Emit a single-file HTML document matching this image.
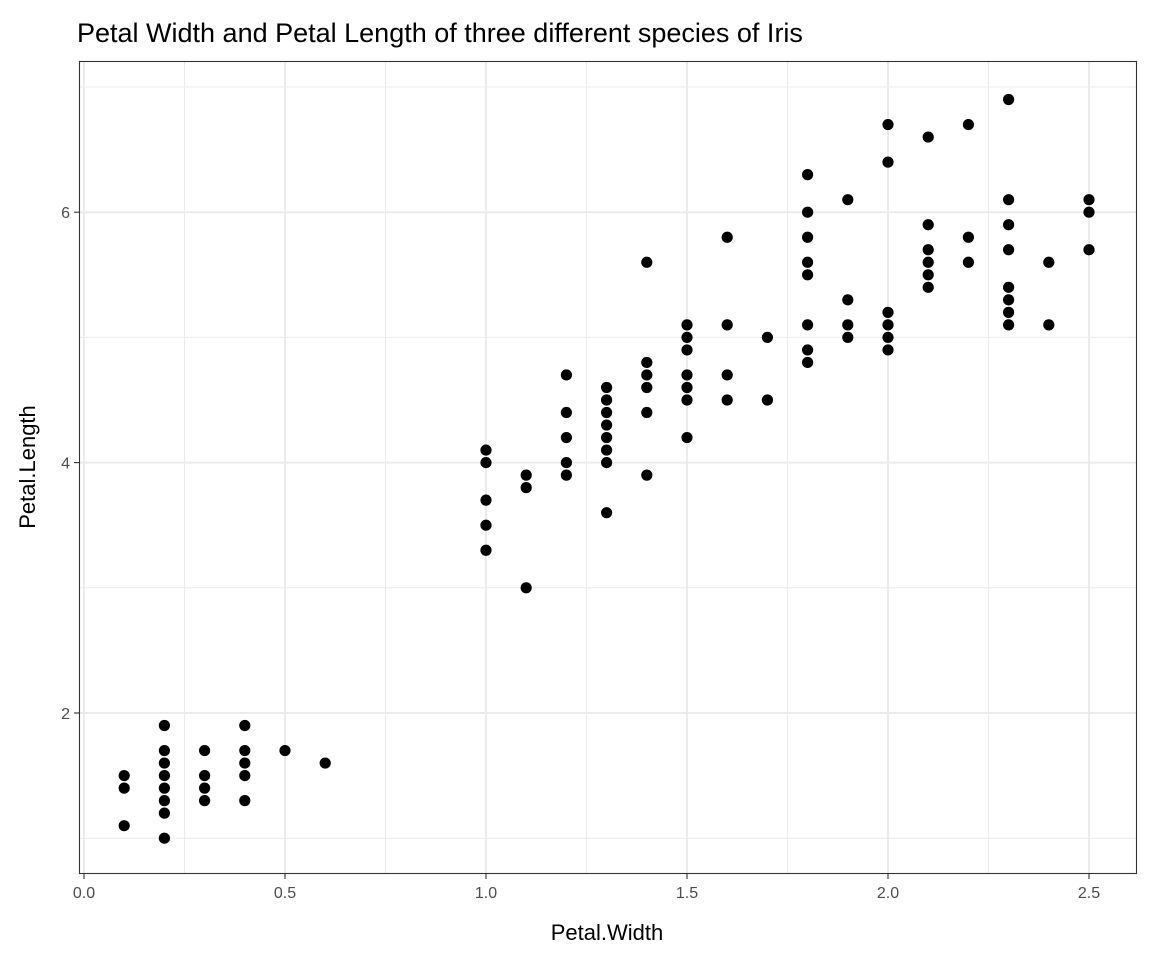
<!DOCTYPE html>
<html><head><meta charset="utf-8"><style>
html,body{margin:0;padding:0;background:#fff;}
svg{display:block;font-family:"Liberation Sans",Arial,sans-serif;}
</style></head><body>
<svg id="s" width="1152" height="960" xmlns="http://www.w3.org/2000/svg">
<rect width="1152" height="960" fill="#fff"/>
<g id="grid"></g>
<g id="pts"></g>
<rect x="79.5" y="61.5" width="1057" height="812" fill="none" stroke="#333" stroke-width="1.1"/>
<g id="ticks"></g>
<text x="77" y="42" font-size="27" fill="#000">Petal Width and Petal Length of three different species of Iris</text>
<text x="607" y="940" font-size="22" text-anchor="middle" fill="#000">Petal.Width</text>
<text transform="translate(35,467) rotate(-90)" font-size="22" text-anchor="middle" fill="#000">Petal.Length</text>
</svg>
<script>
var NS="http://www.w3.org/2000/svg";
function X(v){return 84+v*402;}
function Y(v){return 713-(v-2)*125.2;}
function el(p,t,a,txt){var e=document.createElementNS(NS,t);for(var k in a)e.setAttribute(k,a[k]);if(txt!=null)e.textContent=txt;document.getElementById(p).appendChild(e);}
[0.25,0.75,1.25,1.75,2.25].forEach(function(v){el("grid","line",{x1:X(v),x2:X(v),y1:62,y2:873,stroke:"#ebebeb","stroke-width":1});});
[1,3,5,7].forEach(function(v){el("grid","line",{x1:80,x2:1136,y1:Y(v),y2:Y(v),stroke:"#ebebeb","stroke-width":1});});
[0,0.5,1,1.5,2,2.5].forEach(function(v){el("grid","line",{x1:X(v),x2:X(v),y1:62,y2:873,stroke:"#ebebeb","stroke-width":2});
el("ticks","line",{x1:X(v),x2:X(v),y1:874,y2:879,stroke:"#333","stroke-width":1.1});
el("ticks","text",{x:X(v),y:898,"font-size":16,"text-anchor":"middle",fill:"#4d4d4d"},v.toFixed(1));});
[2,4,6].forEach(function(v){el("grid","line",{x1:80,x2:1136,y1:Y(v),y2:Y(v),stroke:"#ebebeb","stroke-width":2});
el("ticks","line",{x1:74,x2:79,y1:Y(v),y2:Y(v),stroke:"#333","stroke-width":1.1});
el("ticks","text",{x:70,y:Y(v)+6,"font-size":16,"text-anchor":"end",fill:"#4d4d4d"},String(v));});
var d="1.4 .2,1.4 .2,1.3 .2,1.5 .2,1.4 .2,1.7 .4,1.4 .3,1.5 .2,1.4 .2,1.5 .1,1.5 .2,1.6 .2,1.4 .1,1.1 .1,1.2 .2,1.5 .4,1.3 .4,1.4 .3,1.7 .3,1.5 .3,1.7 .2,1.5 .4,1.0 .2,1.7 .5,1.9 .2,1.6 .2,1.6 .4,1.5 .2,1.4 .2,1.6 .2,1.6 .2,1.5 .4,1.5 .1,1.4 .2,1.5 .2,1.2 .2,1.3 .2,1.4 .1,1.3 .2,1.5 .2,1.3 .3,1.3 .3,1.3 .2,1.6 .6,1.9 .4,1.4 .3,1.6 .2,1.4 .2,1.5 .2,1.4 .2,"+
"4.7 1.4,4.5 1.5,4.9 1.5,4.0 1.3,4.6 1.5,4.5 1.3,4.7 1.6,3.3 1.0,4.6 1.3,3.9 1.4,3.5 1.0,4.2 1.5,4.0 1.0,4.7 1.4,3.6 1.3,4.4 1.4,4.5 1.5,4.1 1.0,4.5 1.5,3.9 1.1,4.8 1.8,4.0 1.3,4.9 1.5,4.7 1.2,4.3 1.3,4.4 1.4,4.8 1.4,5.0 1.7,4.5 1.5,3.5 1.0,3.8 1.1,3.7 1.0,3.9 1.2,5.1 1.6,4.5 1.5,4.5 1.6,4.7 1.5,4.4 1.3,4.1 1.3,4.0 1.3,4.4 1.2,4.6 1.4,4.0 1.2,3.3 1.0,4.2 1.3,4.2 1.2,4.2 1.3,4.3 1.3,3.0 1.1,4.1 1.3,"+
"6.0 2.5,5.1 1.9,5.9 2.1,5.6 1.8,5.8 2.2,6.6 2.1,4.5 1.7,6.3 1.8,5.8 1.8,6.1 2.5,5.1 2.0,5.3 1.9,5.5 2.1,5.0 2.0,5.1 2.4,5.3 2.3,5.5 1.8,6.7 2.2,6.9 2.3,5.0 1.5,5.7 2.3,4.9 2.0,6.7 2.0,4.9 1.8,5.7 2.1,6.0 1.8,4.8 1.8,4.9 1.8,5.6 2.1,5.8 1.6,6.1 1.9,6.4 2.0,5.6 2.2,5.1 1.5,5.6 1.4,6.1 2.3,5.6 2.4,5.5 1.8,4.8 1.8,5.4 2.1,5.6 2.4,5.1 2.3,5.1 1.9,5.9 2.3,5.7 2.5,5.2 2.3,5.0 1.9,5.2 2.0,5.4 2.3,5.1 1.8";
var seen={};
d.split(",").forEach(function(p){if(seen[p])return;seen[p]=1;var a=p.split(" ");el("pts","circle",{cx:X(+a[1]),cy:Y(+a[0]),r:5.6,fill:"#000"});});
</script>
</body></html>
